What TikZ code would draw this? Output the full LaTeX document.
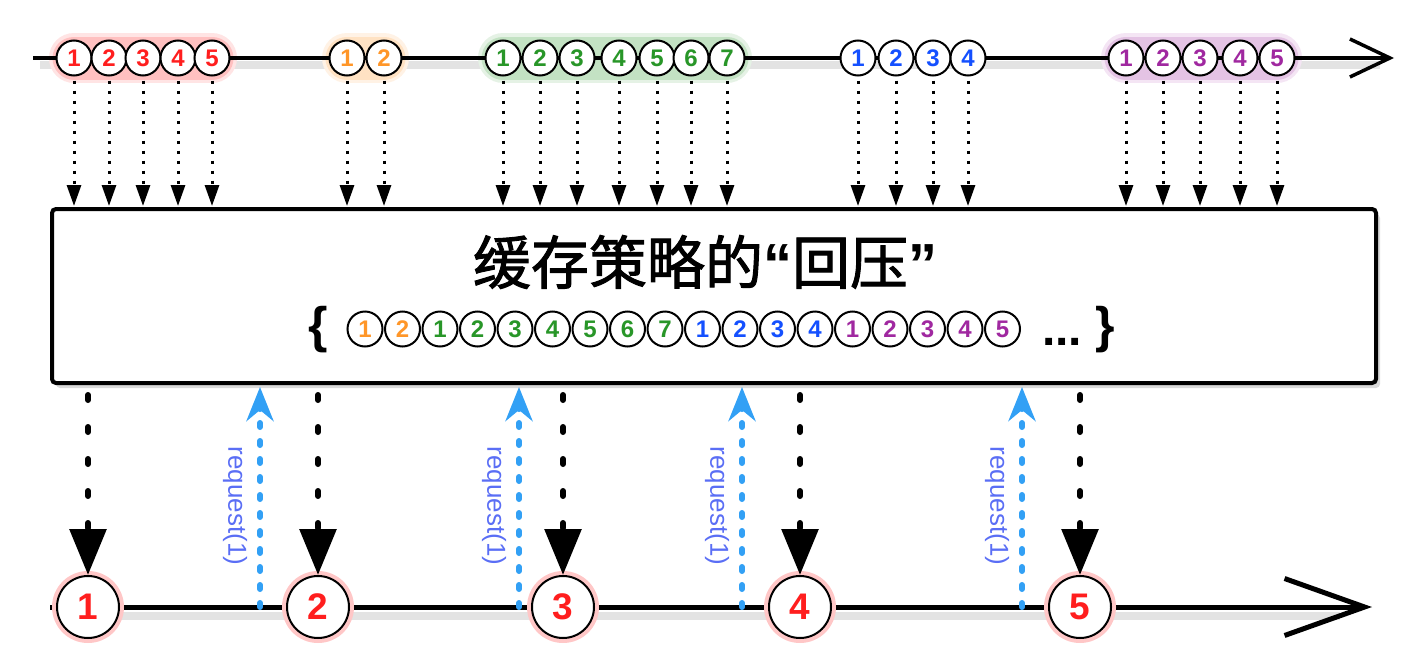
\documentclass[tikz,border=0pt]{standalone}
\usepackage{fontspec}
\setmainfont{Liberation Sans}
\newfontfamily\cjk[FakeBold=1.6]{Noto Sans CJK SC}
\usetikzlibrary{arrows.meta,shadows}
\definecolor{mred}{RGB}{255,30,30}
\definecolor{morange}{RGB}{255,150,40}
\definecolor{mgreen}{RGB}{40,150,40}
\definecolor{mblue}{RGB}{20,80,255}
\definecolor{mpurple}{RGB}{160,40,160}
\definecolor{rblue}{RGB}{50,160,245}
\definecolor{lblue}{RGB}{90,110,245}
\begin{document}
\begin{tikzpicture}[x=1pt,y=-1pt,
  marble/.style={circle, draw=black, line width=2pt, fill=white, minimum size=35pt, inner sep=0pt,
     font=\fontsize{24}{24}\selectfont\bfseries},
  bigmarble/.style={marble, minimum size=62pt, font=\fontsize{37}{37}\selectfont\bfseries, text=mred},
  feed/.style={line width=3pt, dash pattern=on 3pt off 7pt, -{Triangle[width=14pt,length=21pt]}},
  bot/.style={line width=6pt, line cap=round, dash pattern=on 5pt off 27pt, -{Triangle[width=36pt,length=46pt]}},
  req/.style={draw=rblue, line width=6pt, line cap=round, dash pattern=on 4pt off 14pt, -{Stealth[width=27pt,length=34pt,inset=11pt]}},
  reqlabel/.style={text=lblue, font=\fontsize{26}{26}\selectfont, inner sep=0pt},
  linesh/.style={draw=gray!22, line width=8pt},
  glowA/.style={line width=50pt, line cap=round, draw=#1!12},
  glowB/.style={line width=43pt, line cap=round, draw=#1!28},
]
\useasboundingbox (0,0) rectangle (1416,664);

% ---------- box ----------
\node[draw, line width=4pt, rounded corners=4pt, fill=white, minimum width=1324pt, minimum height=174pt,
      drop shadow={opacity=0.3, shadow xshift=4pt, shadow yshift=-5pt}] (box) at (714,296) {};
\node (title) at (705,262) {\fontsize{58}{58}\selectfont\cjk 缓存策略的{\rmfamily\bfseries “}回压{\rmfamily\bfseries ”}};
\node[font=\fontsize{50}{50}\selectfont\bfseries, inner sep=0pt] (lbr) at (318,330) {\{};
\node[font=\fontsize{50}{50}\selectfont\bfseries, inner sep=0pt] (rbr) at (1105,330) {\}};
\node[font=\fontsize{48}{48}\selectfont\bfseries, inner sep=0pt, anchor=base] (dots) at (1062,345) {...};
\foreach \n/\c [count=\i from 0] in {1/morange,2/morange,1/mgreen,2/mgreen,3/mgreen,4/mgreen,5/mgreen,6/mgreen,7/mgreen,
   1/mblue,2/mblue,3/mblue,4/mblue,1/mpurple,2/mpurple,3/mpurple,4/mpurple,5/mpurple}
  \node[marble, text=\c] (m\i) at ({365+37.5*\i},329) {\n};

% ---------- top line ----------
\coordinate (tstart) at (33,58);
\coordinate (tend) at (1394,58);
\draw[linesh] (40,65) -- (1380,65);
\draw[glowA=mred] (74,58) -- (212,58);  \draw[glowB=mred] (74,58) -- (212,58);
\draw[glowA=morange] (347,58) -- (384,58); \draw[glowB=morange] (347,58) -- (384,58);
\draw[glowA=mgreen] (503,58) -- (727,58); \draw[glowB=mgreen] (503,58) -- (727,58);
\draw[glowA=mpurple] (1126,58) -- (1277,58); \draw[glowB=mpurple] (1126,58) -- (1277,58);
\draw[line width=3.5pt, -{Straight Barb[length=40pt,width=38pt]}] (tstart) -- (tend);

\foreach \x/\n/\c/\nm in {74/1/mred/tr1,109/2/mred/tr2,143/3/mred/tr3,178/4/mred/tr4,212/5/mred/tr5,
   347/1/morange/to1,384/2/morange/to2,
   503/1/mgreen/tg1,540/2/mgreen/tg2,577/3/mgreen/tg3,619/4/mgreen/tg4,657/5/mgreen/tg5,691/6/mgreen/tg6,727/7/mgreen/tg7,
   858/1/mblue/tb1,896/2/mblue/tb2,933/3/mblue/tb3,968/4/mblue/tb4,
   1126/1/mpurple/tp1,1163/2/mpurple/tp2,1200/3/mpurple/tp3,1240/4/mpurple/tp4,1277/5/mpurple/tp5}
{
  \node[marble, text=\c] (\nm) at (\x,58) {\n};
  \draw[feed, shorten <=4pt, shorten >=1pt] (\nm) -- (\nm |- box.north);
}

% ---------- bottom line ----------
\coordinate (bstart) at (50,607);
\coordinate (bend) at (1372,607);
\draw[linesh] (60,616) -- (1340,616);
\draw[line width=5pt, -{Straight Barb[length=80pt,width=57pt]}] (bstart) -- (bend);

\foreach \x/\n/\nm in {88/1/b1,318/2/b2,563/3/b3,800/4/b4,1080/5/b5}
{
  \fill[mred!25] (\x,607) circle (36);
  \node[bigmarble] (\nm) at (\x,607) {\n};
  \draw[bot, shorten <=10pt] (\nm |- box.south) -- (\nm);
}

\foreach \x/\nm in {260/r1,519/r2,742/r3,1022/r4}
{
  \coordinate (\nm) at (\x,607);
  \draw[req, shorten >=2pt] (\nm) -- (\nm |- box.south);
  \node[reqlabel, rotate=-90] (l\nm) at ({\x-25},506) {request(1)};
}
\end{tikzpicture}
\end{document}
